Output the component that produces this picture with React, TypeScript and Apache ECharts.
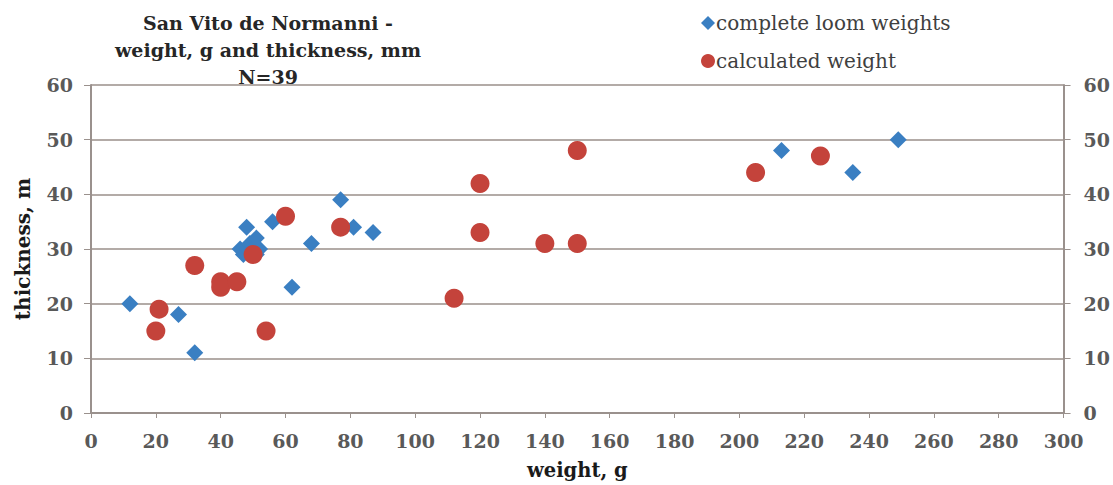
import React, { useEffect, useRef } from "react";
import * as echarts from "echarts";

const titleLines = ["San Vito de Normanni -", "weight, g and thickness, mm", "N=39"];
const seriesNames = ["complete loom weights", "calculated weight"];

const completeWeight = [12, 27, 32, 46, 47, 48, 49, 50, 51, 52, 51, 48, 56, 62, 68, 77, 81, 87, 213, 235, 249];
const completeThickness = [20, 18, 11, 30, 29, 30, 31, 30, 32, 30, 29, 34, 35, 23, 31, 39, 34, 33, 48, 44, 50];

const calcWeight = [20, 21, 32, 40, 40, 45, 50, 54, 60, 77, 112, 120, 120, 140, 150, 150, 205, 225];
const calcThickness = [15, 19, 27, 24, 23, 24, 29, 15, 36, 34, 21, 42, 33, 31, 31, 48, 44, 47];

const xMin = 0, xMax = 300, xStep = 20;
const yMin = 0, yMax = 60, yStep = 10;

const FONT = "DejaVu Serif";

export default function App() {
  const ref = useRef<HTMLDivElement>(null);
  useEffect(() => {
    if (!ref.current) return;
    const chart = echarts.init(ref.current, null, { renderer: "svg" });
    const axisColor = "#9a918d";
    const gridColor = "#b3aba7";
    const tickLabel = { color: "#595959", fontFamily: FONT, fontWeight: "bold" as const, fontSize: 19 };
    chart.setOption({
      animation: false,
      backgroundColor: "#ffffff",
      title: {
        text: titleLines.join("\n"),
        left: 263,
        top: 4,
        textAlign: "center",
        textStyle: { fontFamily: FONT, fontWeight: "bold", fontSize: 19, color: "#262626", lineHeight: 27 },
      },
      legend: {
        orient: "vertical",
        left: 696,
        top: 8,
        itemWidth: 14,
        itemHeight: 14,
        itemGap: 18,
        textStyle: { fontFamily: FONT, fontSize: 20, color: "#404040", padding: [0, 0, 0, -4] },
        data: [
          { name: seriesNames[0], icon: "diamond" },
          { name: seriesNames[1], icon: "circle" },
        ],
      },
      grid: { left: 91, right: 47, top: 85, bottom: 70, containLabel: false },
      xAxis: {
        type: "value",
        min: xMin,
        max: xMax,
        interval: xStep,
        name: "weight, g",
        nameLocation: "middle",
        nameGap: 47,
        nameTextStyle: { fontFamily: FONT, fontWeight: "bold", fontSize: 19.5, color: "#1a1a1a" },
        axisLine: { show: true, lineStyle: { color: axisColor, width: 2 } },
        axisTick: { show: true, length: 5, inside: false, lineStyle: { color: axisColor, width: 1 } },
        axisLabel: { ...tickLabel, margin: 18 },
        splitLine: { show: false },
      },
      yAxis: [
        {
          type: "value",
          min: yMin,
          max: yMax,
          interval: yStep,
          position: "left",
          name: "thickness, m",
          nameLocation: "middle",
          nameGap: 58,
          nameRotate: 90,
          nameTextStyle: { fontFamily: FONT, fontWeight: "bold", fontSize: 20, color: "#1a1a1a" },
          axisLine: { show: true, lineStyle: { color: axisColor, width: 2 } },
          axisTick: { show: true, length: 7, lineStyle: { color: axisColor, width: 1 } },
          axisLabel: { ...tickLabel, margin: 18 },
          splitLine: { show: true, lineStyle: { color: gridColor, width: 2 } },
        },
        {
          type: "value",
          min: yMin,
          max: yMax,
          interval: yStep,
          position: "right",
          axisLine: { show: true, lineStyle: { color: axisColor, width: 2 } },
          axisTick: { show: true, length: 7, lineStyle: { color: axisColor, width: 1 } },
          axisLabel: { ...tickLabel, margin: 20 },
          splitLine: { show: false },
        },
      ],
      series: [
        {
          name: seriesNames[0],
          type: "scatter",
          symbol: "diamond",
          symbolSize: 17,
          itemStyle: { color: "#3a7fc2", opacity: 1 },
          data: completeWeight.map((w, i) => [w, completeThickness[i]]),
        },
        {
          name: seriesNames[1],
          type: "scatter",
          symbol: "circle",
          symbolSize: 19,
          itemStyle: { color: "#c4433b", opacity: 1 },
          data: calcWeight.map((w, i) => [w, calcThickness[i]]),
        },
      ],
    });
    return () => chart.dispose();
  }, []);
  return (
    <div
      ref={ref}
      style={{ position: "fixed", left: 0, top: 0, width: 1113, height: 485, background: "#fff" }}
    />
  );
}
